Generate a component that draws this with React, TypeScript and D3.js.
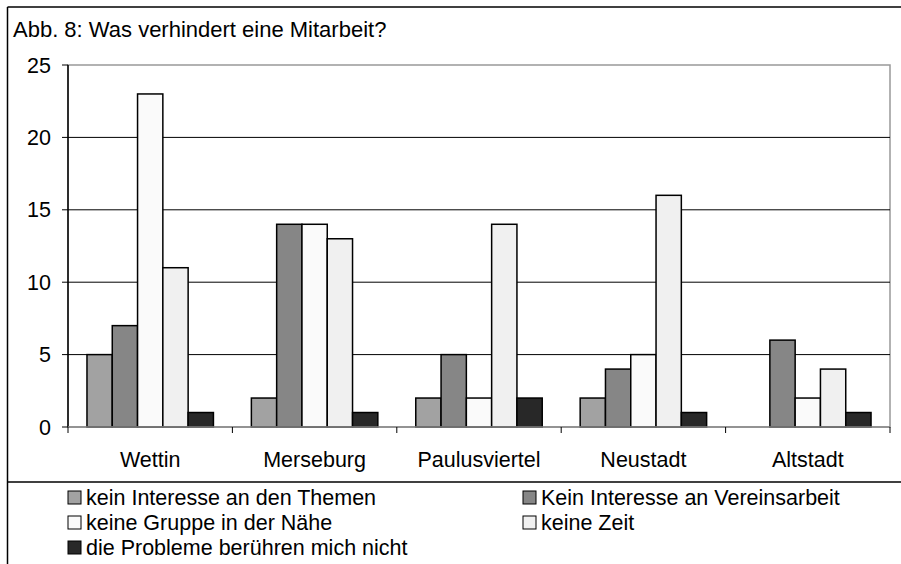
import React from 'react';
import { scaleBand, scaleLinear } from 'd3';

const categories = ['Wettin', 'Merseburg', 'Paulusviertel', 'Neustadt', 'Altstadt'];
const seriesNames = [
  'kein Interesse an den Themen',
  'Kein Interesse an Vereinsarbeit',
  'keine Gruppe in der Nähe',
  'keine Zeit',
  'die Probleme berühren mich nicht',
];
const seriesColors = ['#a2a2a2', '#868686', '#fafafa', '#f0f0f0', '#282828'];
const themen = [5, 2, 2, 2, 0];
const verein = [7, 14, 5, 4, 6];
const gruppe = [23, 14, 2, 5, 2];
const zeit = [11, 13, 14, 16, 4];
const probleme = [1, 1, 2, 1, 1];
const seriesValues = [themen, verein, gruppe, zeit, probleme];
const yTicks = [0, 5, 10, 15, 20, 25];

const W = 901;
const H = 564;
const font = '"Liberation Sans", Arial, sans-serif';
const fs = 21.5;
const plot = { left: 68, right: 890, top: 65, bottom: 427 };

const App = () => {
  const x = scaleBand<string>().domain(categories).range([plot.left, plot.right]).padding(0);
  const inner = scaleBand<number>()
    .domain(seriesNames.map((_, i) => i))
    .range([0, x.bandwidth()])
    .paddingInner(0)
    .paddingOuter(0.75);
  const y = scaleLinear().domain([0, 25]).range([plot.bottom, plot.top]);

  // legend: two columns, rows ~25px apart
  const legendPos = [
    { x: 68, y: 497 },
    { x: 523, y: 497 },
    { x: 68, y: 522 },
    { x: 523, y: 522 },
    { x: 68, y: 547 },
  ];

  return (
    <svg
      width={W}
      height={H}
      style={{ position: 'absolute', left: 0, top: 0, background: '#fff' }}
      fontFamily={font}
    >
      <rect x={0} y={0} width={W} height={H} fill="#fff" />
      {/* outer frame */}
      <line x1={7.5} y1={7} x2={W} y2={7} stroke="#000" strokeWidth={1.5} />
      <line x1={7.5} y1={7} x2={7.5} y2={H} stroke="#000" strokeWidth={1.5} />
      <line x1={7.5} y1={482} x2={W} y2={482} stroke="#000" strokeWidth={1.5} />

      <text x={13} y={36.5} fontSize={22} fill="#000">
        Abb. 8: Was verhindert eine Mitarbeit?
      </text>

      {/* plot frame */}
      <rect
        x={plot.left}
        y={plot.top}
        width={plot.right - plot.left}
        height={plot.bottom - plot.top}
        fill="#fff"
        stroke="#999"
        strokeWidth={1.5}
      />

      {/* grid + y axis */}
      {yTicks.map((t) => (
        <g key={t}>
          {t > 0 && t < 25 && (
            <line x1={plot.left} x2={plot.right} y1={y(t)} y2={y(t)} stroke="#000" strokeWidth={1} />
          )}
          <line x1={plot.left - 6} x2={plot.left} y1={y(t)} y2={y(t)} stroke="#000" strokeWidth={1} />
          <text x={51} y={y(t)} dy="0.35em" textAnchor="end" fontSize={fs} fill="#000">
            {t}
          </text>
        </g>
      ))}
      <line x1={plot.left} x2={plot.left} y1={plot.top} y2={plot.bottom} stroke="#000" strokeWidth={1.5} />

      {/* bars */}
      {categories.map((c, ci) => (
        <g key={c}>
          {seriesValues.map((vals, si) =>
            vals[ci] > 0 ? (
              <rect
                key={si}
                x={(x(c) as number) + (inner(si) as number)}
                y={y(vals[ci])}
                width={inner.bandwidth()}
                height={y(0) - y(vals[ci])}
                fill={seriesColors[si]}
                stroke="#000"
                strokeWidth={1.5}
              />
            ) : null
          )}
        </g>
      ))}

      {/* x axis */}
      <line x1={plot.left} x2={plot.right} y1={plot.bottom} y2={plot.bottom} stroke="#888" strokeWidth={1.5} />
      {[...categories.map((c) => x(c) as number), plot.right].map((tx, i) => (
        <line key={i} x1={tx} x2={tx} y1={plot.bottom} y2={plot.bottom + 6} stroke="#000" strokeWidth={1} />
      ))}
      {categories.map((c) => (
        <text
          key={c}
          x={(x(c) as number) + x.bandwidth() / 2}
          y={466.5}
          textAnchor="middle"
          fontSize={fs}
          fill="#000"
        >
          {c}
        </text>
      ))}

      {/* legend */}
      {seriesNames.map((name, i) => (
        <g key={name} transform={`translate(${legendPos[i].x},${legendPos[i].y})`}>
          <rect x={0} y={-6} width={13} height={13} fill={seriesColors[i]} stroke="#000" strokeWidth={1} />
          <text x={18} y={0} dy="0.35em" fontSize={fs} fill="#000">
            {name}
          </text>
        </g>
      ))}
    </svg>
  );
};

export default App;
